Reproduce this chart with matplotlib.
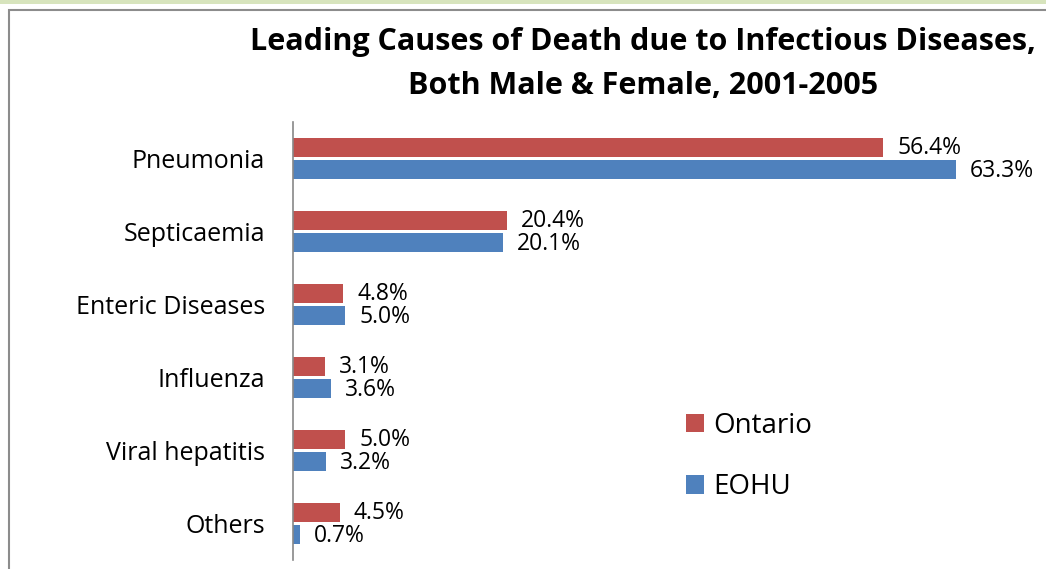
import numpy as np
import matplotlib.pyplot as plt
from matplotlib.patches import Rectangle

# Dane
categories = ['Pneumonia', 'Septicaemia', 'Enteric Diseases', 'Influenza',
              'Viral hepatitis', 'Others']
ontario = [56.4, 20.4, 4.8, 3.1, 5.0, 4.5]
eohu = [63.3, 20.1, 5.0, 3.6, 3.2, 0.7]

c_ont = '#C0504D'
c_eohu = '#4F81BD'

plt.rcParams['font.family'] = ['Open Sans', 'DejaVu Sans']

fig = plt.figure(figsize=(10.46, 5.69), dpi=100)

# Ramka wykresu i pasek u góry
fig.patches.append(Rectangle((0, 1 - 4 / 569), 1, 4 / 569, transform=fig.transFigure,
                             facecolor='#D7E4BD', edgecolor='none'))
fig.patches.append(Rectangle((9 / 1046, -0.05), 1.2, 1 - 10 / 569 + 0.05,
                             transform=fig.transFigure, facecolor='none',
                             edgecolor='#8C8C8C', linewidth=1.5))

ax = fig.add_axes([293 / 1046, 9 / 569, 740 / 1046, 438 / 569])

y = np.arange(len(categories))
h = 0.26
ax.barh(y - h / 2 - 0.02, ontario, height=h, color=c_ont, label='Ontario')
ax.barh(y + h / 2 + 0.02, eohu, height=h, color=c_eohu, label='EOHU')

for i in range(len(categories)):
    ax.annotate(f'{ontario[i]:.1f}%', (ontario[i], y[i] - h / 2 - 0.02),
                xytext=(10, 0), textcoords='offset points', va='center',
                fontsize=16.5)
    ax.annotate(f'{eohu[i]:.1f}%', (eohu[i], y[i] + h / 2 + 0.04),
                xytext=(10, 0), textcoords='offset points', va='center',
                fontsize=16.5)

ax.set_ylim(len(categories) - 0.5, -0.5)
ax.set_xlim(0, 70.7)
ax.set_yticks(y)
ax.set_yticklabels(categories, fontsize=18)
ax.tick_params(axis='y', length=0, pad=20)
ax.set_xticks([])
for s in ['top', 'right', 'bottom']:
    ax.spines[s].set_visible(False)
ax.spines['left'].set_color('#888888')
ax.spines['left'].set_linewidth(1.2)

ax.legend(loc='center left', bbox_to_anchor=(0.497, 0.236), frameon=False,
          fontsize=20, handlelength=0.65, handleheight=0.65, labelspacing=1.2,
          handletextpad=0.35)

fig.text(643 / 1046, 1 - 64 / 569,
         'Leading Causes of Death due to Infectious Diseases,\nBoth Male & Female, 2001-2005',
         ha='center', va='center', fontsize=22, fontweight='bold',
         linespacing=1.65)

plt.savefig('out.png', dpi=100)
